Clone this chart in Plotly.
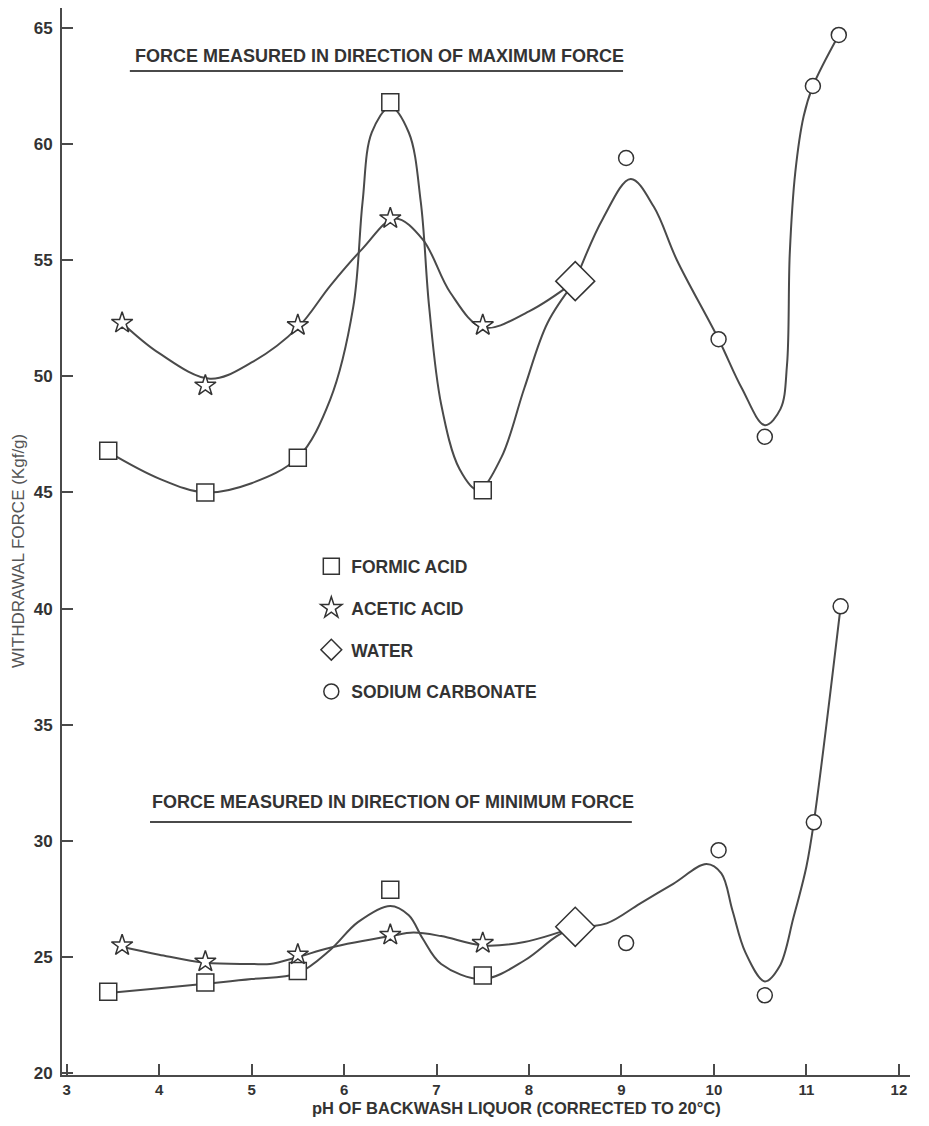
import plotly.graph_objects as go

# ---- data ----
formic_ph = [3.45, 4.5, 5.5, 6.5, 7.5]
formic_max = [46.8, 45.0, 46.5, 61.8, 45.1]
formic_min = [23.5, 23.9, 24.4, 27.9, 24.2]

acetic_ph = [3.6, 4.5, 5.5, 6.5, 7.5]
acetic_max = [52.3, 49.6, 52.2, 56.8, 52.2]
acetic_min = [25.5, 24.8, 25.1, 25.95, 25.6]

water_ph = [8.5]
water_max = [54.1]
water_min = [26.3]

soda_ph_max = [9.05, 10.05, 10.55, 11.07, 11.35]
soda_max = [59.4, 51.6, 47.4, 62.5, 64.7]
soda_ph_min = [9.05, 10.05, 10.55, 11.08, 11.37]
soda_min = [25.6, 29.6, 23.35, 30.8, 40.1]

# hand-drawn fitted curves
formic_max_curve_ph = [3.45, 4.0, 4.5, 5.0, 5.5, 5.85, 6.1, 6.2, 6.3, 6.5, 6.7, 6.83, 6.92, 7.05, 7.25, 7.45, 7.7, 7.95, 8.2, 8.5]
formic_max_curve = [46.75, 45.6, 45.0, 45.4, 46.5, 49.0, 53.0, 57.5, 60.5, 61.6, 60.5, 57.5, 53.0, 48.8, 46.0, 45.1, 46.5, 49.5, 52.3, 54.1]

acetic_max_curve_ph = [3.6, 4.0, 4.55, 5.0, 5.5, 5.85, 6.2, 6.55, 6.85, 7.15, 7.5, 8.0, 8.5]
acetic_max_curve = [52.3, 51.0, 49.9, 50.6, 52.1, 53.9, 55.5, 56.8, 55.9, 53.6, 52.1, 52.8, 54.1]

soda_max_curve_ph = [8.5, 8.8, 9.1, 9.35, 9.6, 10.05, 10.3, 10.55, 10.72, 10.79, 10.82, 10.88, 10.97, 11.07, 11.35]
soda_max_curve = [54.1, 56.8, 58.5, 57.3, 55.0, 51.6, 49.5, 47.9, 48.6, 50.5, 55.3, 58.8, 61.2, 62.5, 64.7]

formic_min_curve_ph = [3.45, 4.0, 4.5, 5.0, 5.5, 5.85, 6.15, 6.5, 6.7, 6.85, 7.05, 7.5, 7.95, 8.3, 8.5]
formic_min_curve = [23.45, 23.65, 23.85, 24.05, 24.3, 25.3, 26.5, 27.2, 26.8, 25.8, 24.7, 24.05, 24.85, 25.9, 26.3]

acetic_min_curve_ph = [3.58, 4.0, 4.5, 5.0, 5.2, 5.5, 5.85, 6.5, 6.75, 7.05, 7.5, 7.95, 8.5]
acetic_min_curve = [25.45, 25.1, 24.75, 24.7, 24.7, 25.0, 25.4, 25.9, 26.05, 25.9, 25.5, 25.65, 26.3]

soda_min_curve_ph = [8.5, 8.84, 9.2, 9.56, 9.92, 10.08, 10.2, 10.34, 10.55, 10.71, 10.86, 11.0, 11.08, 11.37]
soda_min_curve = [26.3, 26.45, 27.3, 28.15, 29.0, 28.6, 27.0, 25.2, 23.95, 24.6, 26.7, 28.9, 30.8, 40.1]

x_ticks = [3, 4, 5, 6, 7, 8, 9, 10, 11, 12]
y_ticks = [20, 25, 30, 35, 40, 45, 50, 55, 60, 65]

INK = "#333333"
LINE = "#4a4a4a"
FONT = "Liberation Sans, Arial, sans-serif"

fig = go.Figure()

curves = [
    (formic_max_curve_ph, formic_max_curve),
    (acetic_max_curve_ph, acetic_max_curve),
    (soda_max_curve_ph, soda_max_curve),
    (formic_min_curve_ph, formic_min_curve),
    (acetic_min_curve_ph, acetic_min_curve),
    (soda_min_curve_ph, soda_min_curve),
]
for cx, cy in curves:
    fig.add_trace(go.Scatter(x=cx, y=cy, mode="lines",
                             line=dict(color=LINE, width=2, shape="spline", smoothing=1.0),
                             showlegend=False, hoverinfo="skip"))

def pts(x, y, symbol, size, name):
    fig.add_trace(go.Scatter(
        x=x, y=y, mode="markers", name=name, showlegend=True, legendgroup=name,
        marker=dict(symbol=symbol, size=size, color="white",
                    line=dict(color=INK, width=1.5))))

pts(formic_ph + formic_ph, formic_max + formic_min, "square", 17, "FORMIC ACID")
pts(acetic_ph + acetic_ph, acetic_max + acetic_min, "star", 16, "ACETIC ACID")
pts(water_ph + water_ph, water_max + water_min, "diamond", 30, "WATER")
pts(soda_ph_max + soda_ph_min, soda_max + soda_min, "circle", 15, "SODIUM CARBONATE")

# page has an 8px body margin: figure is 913x1110 placed at (8, 8)
fig.update_layout(
    width=913, height=1110,
    margin=dict(l=54, r=11, t=0, b=43),
    paper_bgcolor="white", plot_bgcolor="rgba(0,0,0,0)",
    font=dict(family=FONT, color=INK, size=14),
    legend=dict(x=0.294, y=0.4936, xanchor="left", yanchor="top",
                bgcolor="rgba(0,0,0,0)", tracegroupgap=16, itemsizing="trace",
                font=dict(family=FONT, size=17.5, color=INK, weight="bold")),
    xaxis=dict(range=[2.95, 12.12], tickvals=x_ticks, ticktext=[str(v) for v in x_ticks],
               showgrid=False, zeroline=False, showline=True, linecolor=LINE, linewidth=2,
               ticks="inside", ticklen=11, tickwidth=2, tickcolor=LINE,
               tickfont=dict(family=FONT, size=15, color=INK, weight="bold"), ticklabelstandoff=0),
    yaxis=dict(range=[19.92, 65.86], tickvals=y_ticks, ticktext=[str(v) for v in y_ticks],
               showgrid=False, zeroline=False, showline=True, linecolor=LINE, linewidth=2,
               ticks="inside", ticklen=11, tickwidth=2, tickcolor=LINE,
               tickfont=dict(family=FONT, size=17, color=INK, weight="bold"), ticklabelstandoff=4),
)

# axis titles
fig.add_annotation(text="pH OF BACKWASH LIQUOR (CORRECTED TO 20°C)", xref="paper", yref="paper",
                   x=0.536, y=-0.0312, xanchor="center", yanchor="middle", showarrow=False,
                   font=dict(family=FONT, size=16.5, color=INK, weight="bold"))
fig.add_annotation(text="WITHDRAWAL FORCE (Kgf/g)", xref="paper", yref="paper",
                   x=-0.052, y=0.491, xanchor="center", yanchor="middle", showarrow=False,
                   textangle=-90, font=dict(family=FONT, size=17, color="#555555"))

# headings with underline
fig.add_annotation(text="FORCE MEASURED IN DIRECTION OF MAXIMUM FORCE", xref="paper", yref="paper",
                   x=0.0837, y=0.955, xanchor="left", yanchor="middle", showarrow=False,
                   font=dict(family=FONT, size=18, color=INK, weight="bold"))
fig.add_shape(type="line", xref="paper", yref="paper", x0=0.080, x1=0.6616, y0=0.941, y1=0.941,
              line=dict(color=LINE, width=2))
fig.add_annotation(text="FORCE MEASURED IN DIRECTION OF MINIMUM FORCE", xref="paper", yref="paper",
                   x=0.1038, y=0.2559, xanchor="left", yanchor="middle", showarrow=False,
                   font=dict(family=FONT, size=18, color=INK, weight="bold"))
fig.add_shape(type="line", xref="paper", yref="paper", x0=0.1038, x1=0.672, y0=0.2371, y1=0.2371,
              line=dict(color=LINE, width=2))

fig.write_html("out.html")
